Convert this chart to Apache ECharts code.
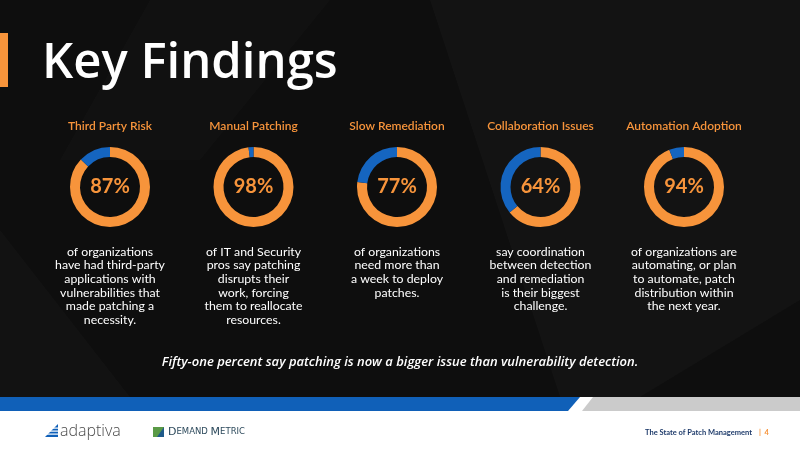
<!DOCTYPE html>
<html><head><meta charset="utf-8">
<script src="https://cdn.jsdelivr.net/npm/echarts@6/dist/echarts.min.js"></script>
<style>html,body{margin:0;padding:0;background:#0e0e0e}#c{width:800px;height:451px}</style>
</head><body><div id="c"></div>
<script>
const categories = ['Third Party Risk','Manual Patching','Slow Remediation','Collaboration Issues','Automation Adoption'];
const values = [87, 98, 77, 64, 94];
const descriptions = [
  'of organizations\nhave had third-party\napplications with\nvulnerabilities that\nmade patching a\nnecessity.',
  'of IT and Security\npros say patching\ndisrupts their\nwork, forcing\nthem to reallocate\nresources.',
  'of organizations\nneed more than\na week to deploy\npatches.',
  'say coordination\nbetween detection\nand remediation\nis their biggest\nchallenge.',
  'of organizations are\nautomating, or plan\nto automate, patch\ndistribution within\nthe next year.'
];
const titleText = 'Key Findings';
const footnote = 'Fifty-one percent say patching is now a bigger issue than vulnerability detection.';
const footerText = 'The State of Patch Management';
const pageNo = '4';

const ORANGE = '#f7943b', BLUE = '#1565c0';
const centersX = [110, 253.5, 397, 540.5, 684];
const cy = 187;

const chart = echarts.init(document.getElementById('c'), null, {renderer:'canvas'});

const series = values.map((v, i) => ({
  type: 'pie',
  center: [centersX[i], cy],
  radius: [30, 40],
  startAngle: 90,
  clockwise: true,
  silent: true,
  avoidLabelOverlap: false,
  labelLine: {show: false},
  emphasis: {disabled: true},
  data: [
    {value: v, itemStyle: {color: ORANGE},
     label: {show: true, position: 'center', formatter: v + '%', color: ORANGE,
             fontSize: 20, fontFamily: 'Lato', fontWeight: 'bold'}},
    {value: 100 - v, itemStyle: {color: BLUE}, label: {show: false}}
  ]
}));

const graphics = [
  // faint background shapes
  {type:'polygon', shape:{points:[[430,0],[800,0],[800,300],[640,397],[560,397]]}, style:{fill:'rgba(255,255,255,0.025)'}, z:-10},
  {type:'polygon', shape:{points:[[0,230],[130,397],[0,397]]}, style:{fill:'rgba(255,255,255,0.02)'}, z:-10},
  {type:'polygon', shape:{points:[[150,0],[330,0],[200,160],[60,160]]}, style:{fill:'rgba(255,255,255,0.015)'}, z:-10},
  // orange accent bar
  {type:'rect', shape:{x:0, y:33, width:8, height:54}, style:{fill:ORANGE}},
  // title
  {type:'text', x:42, y:64, style:{text:titleText, fill:'#ffffff', font:'600 49px "Open Sans"', textVerticalAlign:'middle'}},
  // footer white area
  {type:'rect', shape:{x:0, y:397, width:800, height:54}, style:{fill:'#ffffff'}, z:-5},
  {type:'polygon', shape:{points:[[0,397],[580,397],[568,411],[0,411]]}, style:{fill:'#1060b8'}},
  {type:'polygon', shape:{points:[[593,397],[800,397],[800,411],[582,411]]}, style:{fill:'#cbcbcb'}},
  // adaptiva logo
  {type:'polygon', shape:{points:[[58,424],[58,437],[45,437]]}, style:{fill:'#1060b8'}},
  {type:'rect', shape:{x:44, y:427.5, width:15, height:1.2}, style:{fill:'#ffffff'}},
  {type:'rect', shape:{x:44, y:430.5, width:15, height:1.2}, style:{fill:'#ffffff'}},
  {type:'rect', shape:{x:44, y:433.5, width:15, height:1.2}, style:{fill:'#ffffff'}},
  {type:'text', x:60, y:431, style:{text:'adaptiva', fill:'#4a4a4a', font:'300 16px "Open Sans"', textVerticalAlign:'middle'}},
  // Demand Metric logo
  {type:'rect', shape:{x:153, y:427, width:11, height:10}, style:{fill:'#5a9a46'}},
  {type:'polygon', shape:{points:[[157,437],[164,427],[164,437]]}, style:{fill:'#1f5a8a'}},
  {type:'text', x:168, y:432, style:{text:'{a|D}{b|EMAND }{a|M}{b|ETRIC}', fill:'#2d4a5c', textVerticalAlign:'middle',
     rich:{a:{fontSize:11, fontFamily:'DejaVu Sans', fontWeight:'normal', fill:'#2d4a5c', color:'#2d4a5c'},
           b:{fontSize:8.5, fontFamily:'DejaVu Sans', fontWeight:'normal', fill:'#2d4a5c', color:'#2d4a5c'}}}},
  // footer right
  {type:'text', x:752, y:433, style:{text:footerText, fill:'#1d3a6a', font:'bold 7.5px Lato', textAlign:'right', textVerticalAlign:'middle'}},
  {type:'text', x:759, y:433, style:{text:'|  ' + pageNo, fill:ORANGE, font:'bold 7.5px Lato', textAlign:'left', textVerticalAlign:'middle'}},
  // footnote
  {type:'text', x:400, y:362, style:{text:footnote, fill:'#ffffff', font:'italic 600 13px "Open Sans"', textAlign:'center', textVerticalAlign:'middle'}}
];

categories.forEach((c, i) => {
  graphics.push({type:'text', x:centersX[i], y:126, style:{text:c, fill:ORANGE, font:'600 12px Lato', textAlign:'center', textVerticalAlign:'middle'}});
  graphics.push({type:'text', x:centersX[i], y:245, style:{text:descriptions[i], fill:'#ffffff', font:'12.3px Lato', textAlign:'center', textVerticalAlign:'top', lineHeight:13.6}});
});

chart.setOption({
  backgroundColor: '#0e0e0e',
  animation: false,
  series: series,
  graphic: graphics
});
</script></body></html>
